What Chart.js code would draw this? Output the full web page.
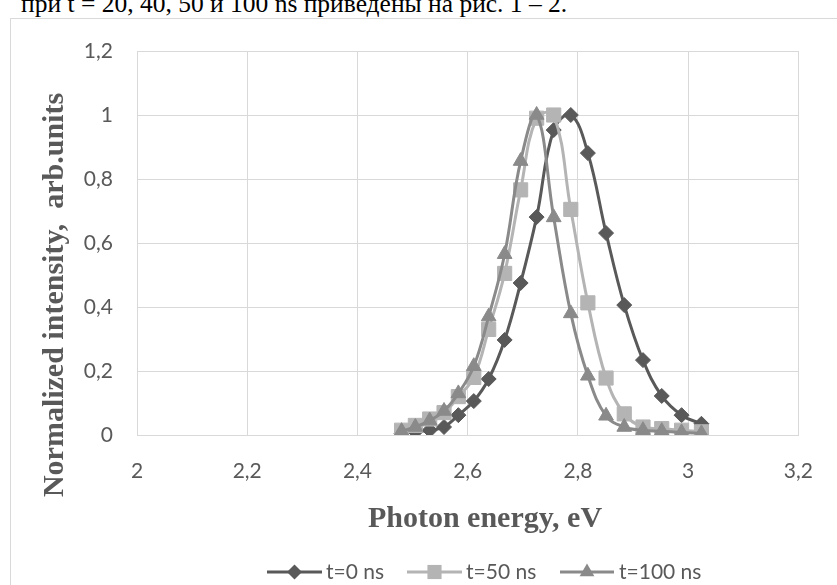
<!DOCTYPE html>
<html>
<head>
<meta charset="utf-8">
<script src="https://cdn.jsdelivr.net/npm/chart.js@4/dist/chart.umd.min.js"></script>
<style>
  html, body { margin: 0; padding: 0; background: #fff; width: 837px; height: 585px; overflow: hidden; position: relative; }
  #header { position: absolute; left: 21px; top: -9px; font-family: "Liberation Serif", serif; font-size: 25.5px; line-height: 25px; color: #000; white-space: nowrap; }
  #frame { position: absolute; left: 10px; top: 18px; width: 900px; height: 700px; border: 1px solid #d9d9d9; box-sizing: border-box; }
  #c { position: absolute; left: 0; top: 0; }
</style>
</head>
<body>
<div id="header">при t = 20, 40, 50 и 100 ns приведены на рис. 1 – 2.</div>
<div id="frame"></div>
<canvas id="c" width="837" height="585"></canvas>
<script>
// ---- data ----
const energy = [2.480, 2.505, 2.531, 2.557, 2.583, 2.611, 2.638, 2.667, 2.696, 2.725, 2.756, 2.787, 2.818, 2.851, 2.884, 2.918, 2.952, 2.988, 3.024];
const t0ns   = [0.005, 0.010, 0.015, 0.025, 0.062, 0.106, 0.175, 0.297, 0.475, 0.681, 0.953, 1.000, 0.881, 0.631, 0.406, 0.234, 0.122, 0.062, 0.035];
const t50ns  = [0.015, 0.030, 0.050, 0.070, 0.120, 0.180, 0.330, 0.505, 0.766, 0.990, 1.000, 0.705, 0.413, 0.178, 0.066, 0.025, 0.020, 0.015, 0.010];
const t100ns = [0.012, 0.025, 0.045, 0.075, 0.130, 0.215, 0.370, 0.565, 0.856, 1.000, 0.680, 0.380, 0.185, 0.060, 0.025, 0.015, 0.012, 0.008, 0.005];
const seriesNames = ["t=0 ns", "t=50 ns", "t=100 ns"];
const xTitle = "Photon energy, eV";
const yTitle = "Normalized intensity,  arb.units";

const colors = ["#595959", "#b4b4b4", "#8a8a8a"];
const styles = [
  { pointStyle: "rectRot", radius: 7.5 },
  { pointStyle: "rect", radius: 10 },
  { pointStyle: "triangle", radius: 8.5 }
];

function pts(ys) { return energy.map((x, i) => ({ x: x, y: ys[i] })); }
const allSeries = [t0ns, t50ns, t100ns];

const datasets = allSeries.map((ys, i) => ({
  label: seriesNames[i],
  data: pts(ys),
  borderColor: colors[i],
  backgroundColor: colors[i],
  borderWidth: 3,
  tension: 0.4,
  pointStyle: styles[i].pointStyle,
  pointRadius: styles[i].radius,
  pointBorderWidth: 1,
  pointBorderColor: colors[i],
  pointBackgroundColor: colors[i],
  order: 3 - i,
  fill: false
}));

function fmt(v) {
  const r = Math.round(v * 10) / 10;
  return String(r).replace(".", ",");
}

const tickFont = { family: "Lato", size: 21 };
const gridColor = "#d9d9d9";

function drawMarker(ctx, style, r, x, y) {
  ctx.beginPath();
  if (style === "rectRot") {
    ctx.moveTo(x, y - r); ctx.lineTo(x + r, y); ctx.lineTo(x, y + r); ctx.lineTo(x - r, y);
  } else if (style === "rect") {
    const s = r * Math.SQRT1_2;
    ctx.rect(x - s, y - s, 2 * s, 2 * s);
  } else {
    const h = r;
    ctx.moveTo(x, y - h);
    ctx.lineTo(x + Math.sin(2 * Math.PI / 3) * h, y - Math.cos(2 * Math.PI / 3) * h);
    ctx.lineTo(x + Math.sin(4 * Math.PI / 3) * h, y - Math.cos(4 * Math.PI / 3) * h);
  }
  ctx.closePath();
  ctx.fill();
}

const decorPlugin = {
  id: "decor",
  afterDraw(chart) {
    const ctx = chart.ctx;
    ctx.save();
    // axis titles
    ctx.fillStyle = "#595959";
    ctx.font = "bold 30px 'Liberation Serif'";
    ctx.textAlign = "center";
    ctx.textBaseline = "middle";
    ctx.fillText(xTitle, 485, 519);
    ctx.save();
    ctx.translate(55, 295);
    ctx.rotate(-Math.PI / 2);
    ctx.fillText(yTitle, 0, 0);
    ctx.restore();
    // legend
    const ly = 572;
    const items = [
      { x1: 267, x2: 322, tx: 326 },
      { x1: 407, x2: 462, tx: 466 },
      { x1: 560, x2: 614, tx: 619 }
    ];
    ctx.font = "21px Lato";
    ctx.textAlign = "left";
    items.forEach((it, i) => {
      ctx.strokeStyle = colors[i];
      ctx.fillStyle = colors[i];
      ctx.lineWidth = 3;
      ctx.beginPath();
      ctx.moveTo(it.x1, ly); ctx.lineTo(it.x2, ly); ctx.stroke();
      drawMarker(ctx, styles[i].pointStyle, styles[i].radius, (it.x1 + it.x2) / 2, ly);
      ctx.fillStyle = "#595959";
      ctx.fillText(seriesNames[i], it.tx, ly);
    });
    ctx.restore();
  }
};

new Chart(document.getElementById("c"), {
  type: "line",
  data: { datasets: datasets },
  options: {
    responsive: false,
    animation: false,
    layout: { padding: { left: 0, top: 51, right: 20, bottom: 0 } },
    plugins: { legend: { display: false }, tooltip: { enabled: false } },
    scales: {
      x: {
        type: "linear",
        min: 2, max: 3.2,
        ticks: { stepSize: 0.2, color: "#595959", font: tickFont, padding: 24, callback: fmt, maxRotation: 0 },
        grid: { color: gridColor, drawTicks: false, lineWidth: 1 },
        border: { color: gridColor },
        afterFit(s) { s.height = 150; }
      },
      y: {
        min: 0, max: 1.2,
        ticks: { stepSize: 0.2, color: "#595959", font: tickFont, padding: 24, callback: fmt },
        grid: { color: gridColor, drawTicks: false, lineWidth: 1 },
        border: { color: gridColor },
        afterFit(s) { s.width = 137; }
      }
    }
  },
  plugins: [decorPlugin]
});
</script>
</body>
</html>
